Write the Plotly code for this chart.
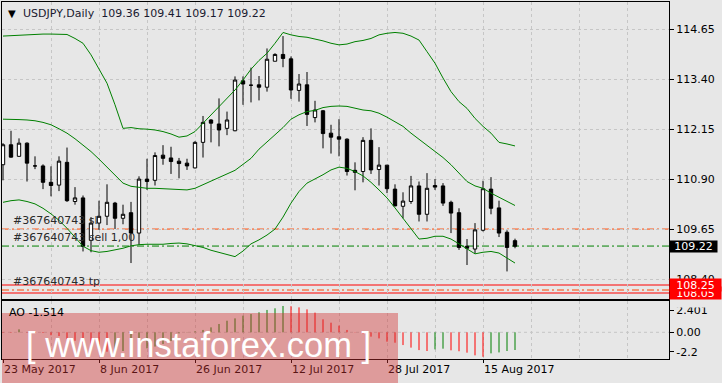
import plotly.graph_objects as go

# ---------------- data ----------------
date_labels = ["23 May 2017", "8 Jun 2017", "26 Jun 2017", "12 Jul 2017", "28 Jul 2017", "15 Aug 2017"]
date_label_bars = [0, 12, 24, 36, 48, 60]

opens = [111.26, 111.76, 111.47, 111.80, 111.23, 111.23, 110.82, 110.75, 111.32, 110.34,
         110.43, 109.37, 109.80, 109.97, 110.30, 109.92, 110.06, 109.55, 110.90, 110.87,
         111.50, 111.43, 111.35, 111.30, 111.18, 111.82, 112.38, 112.28, 112.17, 112.11,
         113.36, 113.25, 113.26, 113.20, 113.85, 114.02, 113.91, 113.12, 113.26, 112.44,
         112.61, 112.05, 111.96, 111.90, 111.12, 111.09, 111.87, 111.14, 111.25, 110.65,
         110.22, 110.34, 110.73, 110.02, 110.74, 110.73, 110.32, 110.06, 109.22, 109.15,
         109.62, 110.65, 110.18, 109.57, 109.36]
highs = [111.80, 112.11, 111.92, 111.82, 111.47, 111.27, 111.22, 111.47, 111.69, 110.70,
         110.49, 109.95, 110.36, 110.77, 110.33, 110.26, 110.33, 110.97, 111.41, 111.57,
         111.75, 111.71, 111.43, 111.41, 111.85, 112.48, 112.40, 112.92, 112.59, 113.47,
         113.47, 113.69, 113.48, 114.17, 114.05, 114.48, 113.97, 113.53, 113.58, 112.86,
         112.63, 112.26, 112.40, 111.92, 111.32, 111.95, 112.17, 111.70, 111.25, 110.77,
         110.57, 110.98, 110.84, 111.05, 110.90, 110.80, 110.36, 110.17, 109.40, 109.80,
         110.86, 110.95, 110.36, 109.62, 109.41]
lows = [110.87, 111.44, 111.46, 110.84, 111.15, 110.65, 110.47, 110.60, 110.33, 110.26,
        109.09, 109.07, 109.63, 109.75, 109.65, 109.77, 108.80, 109.26, 110.63, 110.74,
        111.26, 111.03, 110.92, 111.13, 111.17, 111.44, 111.82, 111.72, 112.00, 112.10,
        112.76, 112.82, 112.87, 113.09, 113.85, 113.70, 112.91, 112.84, 112.23, 112.32,
        111.67, 111.54, 111.47, 110.99, 110.62, 110.82, 111.03, 110.74, 110.55, 110.22,
        109.92, 110.28, 109.84, 109.84, 110.63, 110.23, 109.55, 109.13, 108.75, 109.04,
        109.59, 110.02, 109.45, 108.59, 109.17]
closes = [111.76, 111.45, 111.80, 111.30, 111.23, 110.82, 110.74, 111.35, 110.36, 110.43,
          109.22, 109.80, 109.97, 110.32, 109.92, 110.02, 109.55, 110.90, 110.84, 111.49,
          111.42, 111.34, 111.29, 111.23, 111.82, 112.32, 112.30, 112.13, 112.38, 113.38,
          113.28, 113.25, 113.20, 113.90, 114.02, 113.92, 113.13, 113.28, 112.52, 112.63,
          112.04, 111.95, 111.90, 111.09, 111.07, 111.87, 111.13, 111.25, 110.66, 110.23,
          110.35, 110.73, 110.02, 110.67, 110.70, 110.30, 110.05, 109.19, 109.17, 109.63,
          110.66, 110.17, 109.55, 109.19, 109.22]

bb_upper = [114.48, 114.49, 114.51, 114.52, 114.52, 114.53, 114.53, 114.53, 114.52, 114.42,
            114.30, 114.01, 113.67, 113.30, 112.76, 112.17, 112.19, 112.16, 112.15, 112.13,
            112.09, 112.03, 111.95, 111.98, 112.09, 112.30, 112.51, 112.72, 112.92, 113.13,
            113.38, 113.65, 113.87, 114.05, 114.30, 114.57, 114.51, 114.47, 114.45, 114.41,
            114.36, 114.30, 114.26, 114.28, 114.34, 114.37, 114.42, 114.51, 114.55, 114.57,
            114.55, 114.48, 114.38, 114.09, 113.80, 113.43, 113.09, 112.84, 112.67, 112.42,
            112.22, 112.05, 111.82, 111.78, 111.73]
bb_middle = [112.40, 112.40, 112.39, 112.38, 112.36, 112.32, 112.26, 112.16, 112.05, 111.91,
             111.76, 111.59, 111.40, 111.20, 110.98, 110.80, 110.72, 110.69, 110.67, 110.67,
             110.66, 110.65, 110.63, 110.63, 110.67, 110.76, 110.84, 110.92, 111.03, 111.12,
             111.27, 111.42, 111.65, 111.84, 112.01, 112.19, 112.40, 112.51, 112.59, 112.62,
             112.69, 112.72, 112.73, 112.72, 112.68, 112.63, 112.61, 112.55, 112.45, 112.34,
             112.22, 112.05, 111.90, 111.76, 111.59, 111.44, 111.26, 111.05, 110.84, 110.73,
             110.67, 110.55, 110.45, 110.34, 110.24]
bb_lower = [110.32, 110.36, 110.38, 110.34, 110.28, 110.17, 110.03, 109.87, 109.67, 109.45,
            109.22, 109.11, 109.07, 109.09, 109.13, 109.17, 109.23, 109.26, 109.27, 109.27,
            109.27, 109.29, 109.30, 109.28, 109.24, 109.19, 109.12, 109.07, 109.02, 108.96,
            109.10, 109.28, 109.38, 109.50, 109.65, 109.95, 110.30, 110.59, 110.80, 110.90,
            111.01, 111.13, 111.20, 111.17, 111.09, 110.98, 110.82, 110.63, 110.43, 110.18,
            109.92, 109.67, 109.40, 109.42, 109.47, 109.47, 109.40, 109.28, 109.16, 109.03,
            109.07, 109.09, 109.05, 108.92, 108.80]

ao_values = [-0.04, -0.04, 0.25, -0.03, -0.05, -0.06, -0.25, -0.32, -0.57, -0.72,
             -0.94, -1.22, -1.52, -1.66, -1.62, -1.60, -1.52, -1.45, -1.37, -1.22,
             -1.00, -0.75, -0.09, 0.02, 0.08, 0.20, 0.42, 0.71, 0.99, 1.19,
             1.42, 1.56, 1.71, 1.91, 2.05, 2.25, 2.23, 2.13, 1.96, 1.68,
             1.11, 0.82, 0.57, 0.20, 0.02, -0.15, -0.37, -0.52, -0.80, -0.89,
             -1.09, -1.31, -1.52, -1.60, -1.46, -1.40, -1.54, -1.62, -1.74, -1.97,
             -2.09, -1.80, -1.72, -1.60, -1.514]

price_ticks = [114.65, 113.40, 112.15, 110.90, 109.65, 108.40]
ao_tick_text = ["2.401", "0.00", "-2.2"]
ao_tick_pos = [1.906, 0.0, -1.658]

order_id = "#367640743"
sl_price = 109.65
entry_price = 109.225
tp_price = 108.125
red_levels = [108.25, 108.05]
bid_price = 109.22
title_ohlc = "109.36 109.41 109.17 109.22"
ao_current = "-1.514"

# ---------------- layout helpers ----------------
W, H = 722, 383
BG = "#e7e7e7"
GRID = "#c6c6c6"
FONT = "DejaVu Sans"


def px(xp):
    return xp / W


def py(yp):
    return 1 - yp / H


dom_x = [px(2), px(669)]
main_dom_y = [py(299), py(2)]
ao_dom_y = [py(359), py(301)]
x_range = [-0.125, 83.25]
y_range = [107.90, 115.3325]
ao_range = [-2.282, 2.675]

n = len(opens)
idx = list(range(n))
grid_all = list(range(0, 84, 6))
minor_grid = [g for g in grid_all if g not in date_label_bars]

fig = go.Figure()

# Bollinger bands
for band in (bb_upper, bb_middle, bb_lower):
    fig.add_trace(go.Scatter(x=idx, y=band, mode="lines", line=dict(color="#008000", width=1),
                             hoverinfo="skip", xaxis="x", yaxis="y"))

# candles
fig.add_trace(go.Candlestick(
    x=idx, open=opens, high=highs, low=lows, close=closes,
    increasing=dict(line=dict(color="black", width=1), fillcolor="white"),
    decreasing=dict(line=dict(color="black", width=1), fillcolor="black"),
    whiskerwidth=0, hoverinfo="skip", xaxis="x", yaxis="y"))

# AO histogram as thin lines
gx, gy, rx, ry = [], [], [], []
prev = None
for i, v in enumerate(ao_values):
    up = prev is not None and v > prev
    if up:
        gx += [i, i, None]; gy += [0, v, None]
    else:
        rx += [i, i, None]; ry += [0, v, None]
    prev = v
fig.add_trace(go.Scatter(x=gx, y=gy, mode="lines", line=dict(color="#008000", width=1),
                         hoverinfo="skip", xaxis="x2", yaxis="y2"))
fig.add_trace(go.Scatter(x=rx, y=ry, mode="lines", line=dict(color="#ff0000", width=1),
                         hoverinfo="skip", xaxis="x2", yaxis="y2"))

shapes = []
DASHDOT = "7px,3px,2px,3px"
line_specs = [(sl_price, "#ff4500", DASHDOT), (entry_price, "#008000", DASHDOT),
              (tp_price, "#ff4500", DASHDOT)] + [(lv, "#ff0000", "solid") for lv in red_levels]
for lv, col, dsh in line_specs:
    shapes.append(dict(type="line", xref="paper", yref="y", x0=dom_x[0], x1=dom_x[1], y0=lv, y1=lv,
                       line=dict(color=col, width=1, dash=dsh), layer="below"))
shapes.append(dict(type="line", xref="paper", yref="y2", x0=dom_x[0], x1=dom_x[1], y0=0, y1=0,
                   line=dict(color=GRID, width=1, dash="3px,3px"), layer="below"))
# watermark band
shapes.append(dict(type="rect", xref="paper", yref="paper", x0=px(2), x1=px(398), y0=0, y1=py(313),
                   fillcolor="rgba(210,50,50,0.42)", line=dict(width=0), layer="above"))

ann = []
TXT = "#2a2a2a"
ann.append(dict(xref="paper", yref="paper", x=px(6), y=py(13), xanchor="left", yanchor="middle",
                text="▼", showarrow=False, font=dict(family=FONT, size=10, color="black")))
ann.append(dict(xref="paper", yref="paper", x=px(21), y=py(13), xanchor="left", yanchor="middle",
                text="USDJPY,Daily\u00a0\u00a0" + title_ohlc, showarrow=False,
                font=dict(family=FONT, size=11, color="#1a1a30")))
for label, lv in ((order_id + " sl", sl_price), (order_id + " sell 1,00", entry_price),
                  (order_id + " tp", tp_price)):
    ann.append(dict(xref="paper", yref="y", x=px(11), y=lv, xanchor="left", yanchor="bottom",
                    yshift=0, text=label, showarrow=False, font=dict(family=FONT, size=11, color=TXT)))
ann.append(dict(xref="paper", yref="paper", x=px(7), y=py(312), xanchor="left", yanchor="middle",
                text="AO " + ao_current, showarrow=False, font=dict(family=FONT, size=11, color="black")))
# price boxes on the right axis
ann.append(dict(xref="paper", yref="y", x=px(669), y=bid_price, xanchor="left", yanchor="middle",
                text=f"{bid_price:.2f}", showarrow=False, bgcolor="black", width=47, height=11,
                borderpad=0, font=dict(family=FONT, size=11, color="white")))
ann.append(dict(xref="paper", yref="y", x=px(669), y=red_levels[1], xanchor="left", yanchor="middle",
                text=f"{red_levels[1]:.2f}", showarrow=False, bgcolor="#ff0000", width=51, height=12,
                borderpad=0, font=dict(family=FONT, size=11, color="white")))
ann.append(dict(xref="paper", yref="y", x=px(669), y=red_levels[0], xanchor="left", yanchor="middle",
                text=f"{red_levels[0]:.2f}", showarrow=False, bgcolor="#ff0000", width=51, height=12,
                borderpad=0, font=dict(family=FONT, size=11, color="white")))
ann.append(dict(xref="paper", yref="paper", x=px(670), y=py(299.5), xanchor="left", yanchor="top",
                text=" ", showarrow=False, bgcolor=BG, width=52, height=6, borderpad=0))
# watermark text
ann.append(dict(xref="paper", yref="paper", x=px(199), y=py(345), xanchor="center", yanchor="middle",
                text="[ www.instaforex.com ]", showarrow=False,
                font=dict(family="Liberation Sans", size=34.5, color="white")))

axis_common = dict(showline=True, linecolor="black", linewidth=1, mirror=True, zeroline=False,
                   tickcolor="black", tickfont=dict(family=FONT, size=11, color="black"))

fig.update_layout(
    width=W, height=H, margin=dict(l=0, r=0, t=0, b=0),
    paper_bgcolor=BG, plot_bgcolor=BG, showlegend=False, boxgap=0.4, hovermode=False,
    font=dict(family=FONT, size=11, color="black"),
    shapes=shapes, annotations=ann,
    xaxis=dict(domain=dom_x, range=x_range, anchor="y", showticklabels=False, ticks="",
               tickmode="array", tickvals=grid_all, showgrid=True, gridcolor=GRID, griddash="3px,3px",
               rangeslider=dict(visible=False), **axis_common),
    yaxis=dict(domain=main_dom_y, range=y_range, anchor="x", side="right", tickmode="array",
               tickvals=price_ticks, ticktext=[f"{t:.2f}" for t in price_ticks], ticks="outside",
               ticklen=4, showgrid=True, gridcolor=GRID, griddash="3px,3px", **axis_common),
    xaxis2=dict(domain=dom_x, range=x_range, anchor="y2", tickmode="array", tickvals=date_label_bars,
                ticktext=date_labels, ticks="outside", ticklen=3, ticklabelposition="outside right",
                showgrid=True, gridcolor=GRID, griddash="3px,3px",
                minor=dict(tickmode="array", tickvals=minor_grid, showgrid=True, gridcolor=GRID,
                           griddash="3px,3px", ticks=""),
                **axis_common),
    yaxis2=dict(domain=ao_dom_y, range=ao_range, anchor="x2", side="right", tickmode="array",
                tickvals=ao_tick_pos, ticktext=ao_tick_text, ticks="outside", ticklen=4,
                showgrid=False, **axis_common),
)

fig.write_html("out.html")
